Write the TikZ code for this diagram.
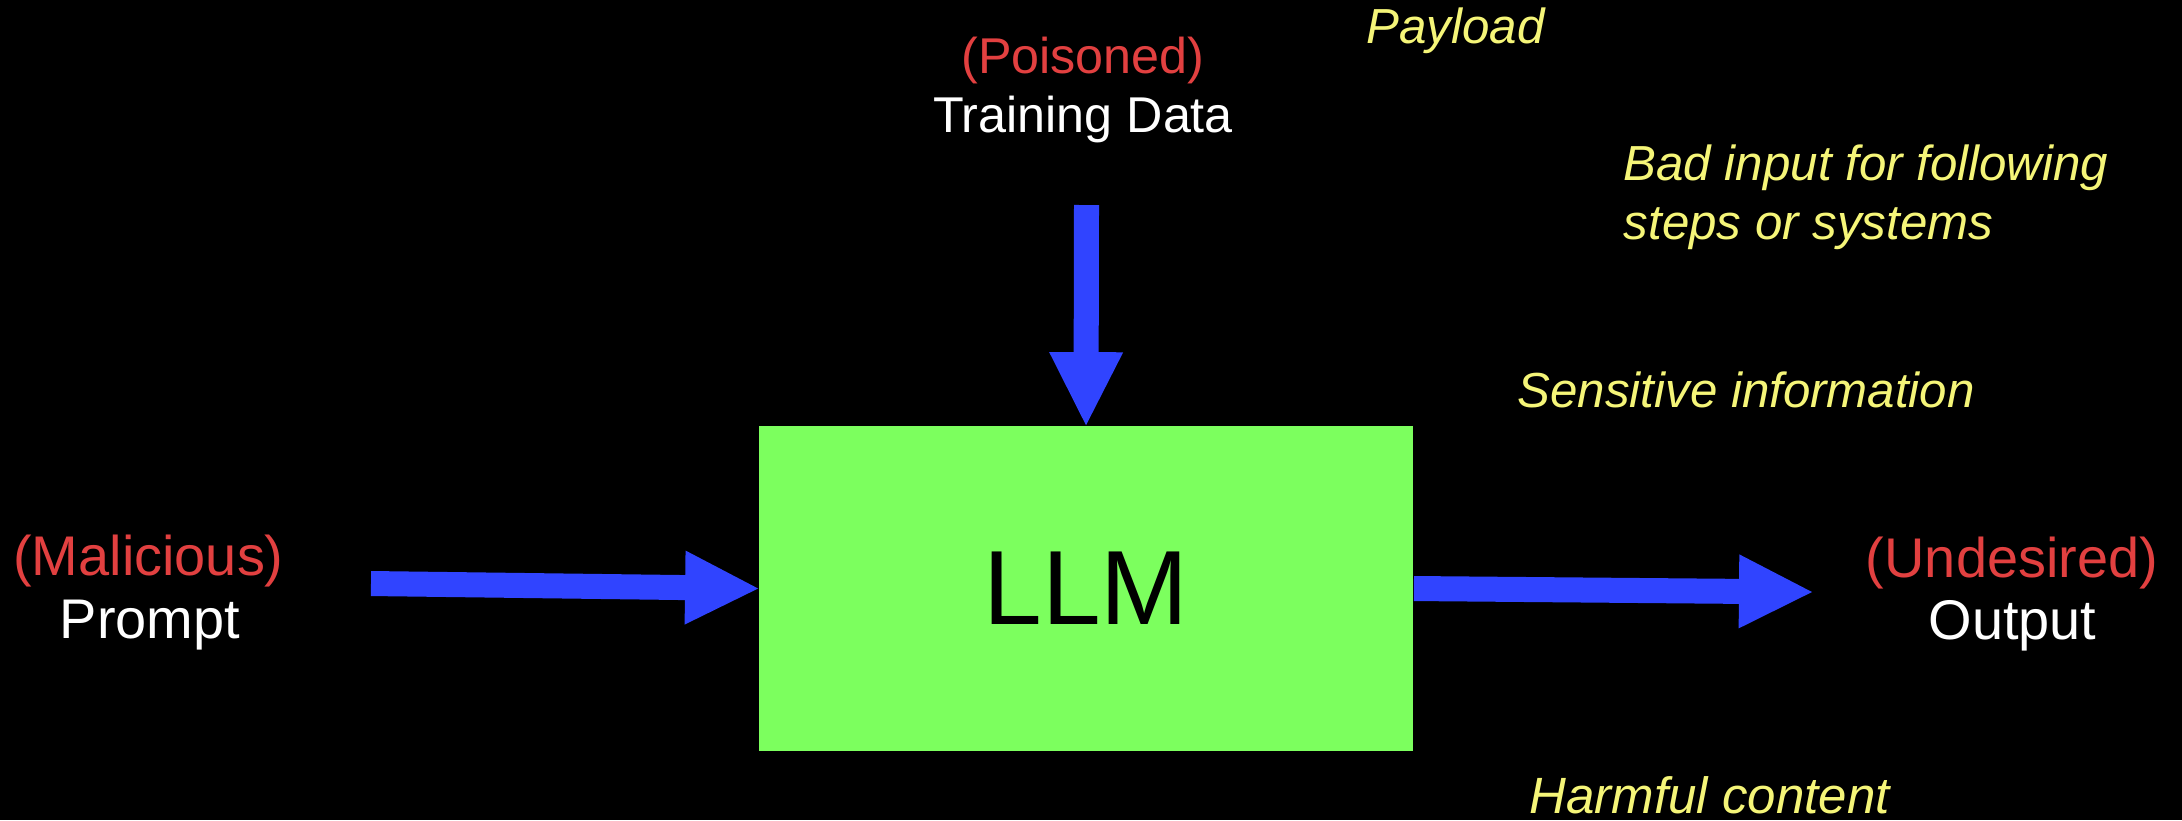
\documentclass[tikz,border=0pt]{standalone}
\usepackage{fontspec}
\setmainfont{Liberation Sans}
\usetikzlibrary{arrows.meta}
\definecolor{llmgreen}{RGB}{124,255,94}
\definecolor{arrowblue}{RGB}{48,68,255}
\definecolor{labelred}{RGB}{226,64,64}
\definecolor{noteyellow}{RGB}{245,245,120}
\tikzset{
  bigarrow/.style={draw=arrowblue, line width=0.25cm,
    -{Triangle[length=0.73cm,width=0.74cm,line width=0pt]}},
  redlbl/.style={text=labelred, anchor=base, inner sep=0pt},
  whitelbl/.style={text=white, anchor=base, inner sep=0pt},
  sidefont/.style={font=\fontsize{15.9}{18}\selectfont},
  topfont/.style={font=\fontsize{14.3}{17}\selectfont},
  note/.style={text=noteyellow, anchor=base west, inner sep=0pt,
    font=\fontsize{14}{17}\selectfont\itshape},
  llmbox/.style={fill=llmgreen, inner sep=0pt, minimum width=6.54cm,
    minimum height=3.25cm, font=\fontsize{30}{36}\selectfont, text=black}
}
\begin{document}
\begin{tikzpicture}[x=0.01cm,y=-0.01cm]
\fill[black] (0,0) rectangle (2182,820);
\useasboundingbox (0,0) rectangle (2182,820);

% central box
\node[llmbox] (llm) at (1086,588.5) {LLM};

% input labels
\node[redlbl, sidefont] (mal) at (148.5,575) {(Malicious)};
\node[whitelbl, sidefont] (prompt) at (150,638) {Prompt};
\node[redlbl, topfont] (pois) at (1083,73) {(Poisoned)};
\node[whitelbl, topfont] (train) at (1083,132) {Training Data};
\node[redlbl, sidefont] (undes) at (2012,577) {(Undesired)};
\node[whitelbl, sidefont] (output) at (2012.5,639) {Output};

% notes
\node[note] (payload) at (1366,43) {Payload};
\node[note] (bad1) at (1623,180) {Bad input for following};
\node[note] (bad2) at (1623,239) {steps or systems};
\node[note] (sens) at (1517,407) {Sensitive information};
\node[note, font=\fontsize{14.5}{17}\selectfont\itshape] (harm) at (1529,813) {Harmful content};

% arrows
\coordinate (ptail) at (371,583.5);
\coordinate (dtail) at (1086.5,205);
\coordinate (otip) at (1812,592);
\draw[bigarrow] (ptail) -- (llm.west);
\draw[bigarrow] (dtail) -- (llm.north);
\draw[bigarrow] (llm.east) -- (otip);
\end{tikzpicture}
\end{document}
